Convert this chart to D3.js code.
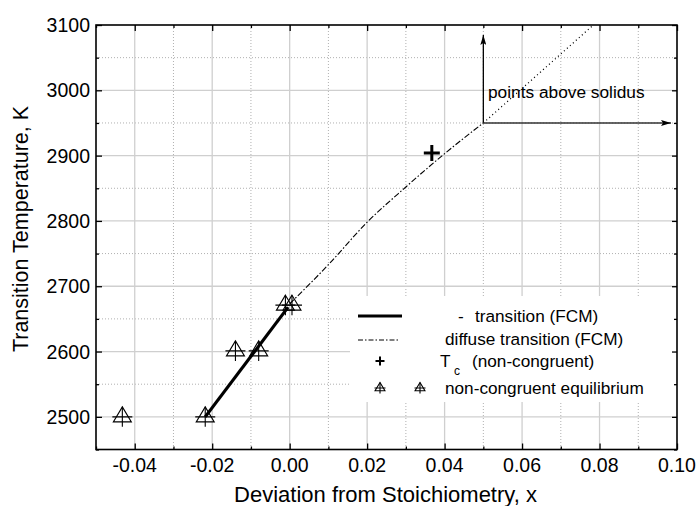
<!DOCTYPE html>
<html>
<head>
<meta charset="utf-8">
<script src="https://cdn.jsdelivr.net/npm/d3@7"></script>
<style>
  body { margin: 0; background: white; }
  svg { font-family: "Liberation Sans", Arial, sans-serif; }
</style>
</head>
<body>
<svg id="chart" width="697" height="506"></svg>
<script>
// data
var xDomain = [-0.05, 0.10];
var yDomain = [2450, 3100];
var xMajorTicks = [-0.04, -0.02, 0.00, 0.02, 0.04, 0.06, 0.08, 0.10];
var xMinorTicks = [-0.05, -0.03, -0.01, 0.01, 0.03, 0.05, 0.07, 0.09];
var yMajorTicks = [2500, 2600, 2700, 2800, 2900, 3000, 3100];
var yMinorTicks = [2450, 2550, 2650, 2750, 2850, 2950, 3050];

// transition (FCM), thick solid
var fcmX = [-0.0218, -0.0004];
var fcmT = [2500, 2668];
// diffuse transition (FCM), dash-dot
var diffX = [0.000, 0.010, 0.020, 0.030, 0.040, 0.050];
var diffT = [2673, 2733, 2798, 2852, 2903, 2950];
// points above solidus, dotted
var solX = [0.050, 0.0784];
var solT = [2950, 3100];
// Tc (non-congruent)
var tcX = [0.0367];
var tcT = [2904];
// non-congruent equilibrium
var neqX = [-0.0432, -0.0218, -0.0140, -0.0080, -0.0011, 0.0006];
var neqT = [2500, 2500, 2601, 2601, 2671, 2671];

var svg = d3.select("#chart");
var pLeft = 96, pRight = 677, pTop = 25, pBottom = 449.5;

var x = d3.scaleLinear().domain(xDomain).range([pLeft, pRight]);
var y = d3.scaleLinear().domain(yDomain).range([pBottom, pTop]);

// grid
var grid = svg.append("g");
grid.selectAll(".gxMinor").data(xMinorTicks.slice(1)).enter().append("line")
    .attr("x1", d => x(d)).attr("x2", d => x(d))
    .attr("y1", pTop).attr("y2", pBottom)
    .style("stroke", "#b0b0b0").style("stroke-dasharray", "1,2");
grid.selectAll(".gyMinor").data(yMinorTicks.slice(1)).enter().append("line")
    .attr("y1", d => y(d)).attr("y2", d => y(d))
    .attr("x1", pLeft).attr("x2", pRight)
    .style("stroke", "#b0b0b0").style("stroke-dasharray", "1,2");
grid.selectAll(".gxMajor").data(xMajorTicks.slice(0, -1)).enter().append("line")
    .attr("x1", d => x(d)).attr("x2", d => x(d))
    .attr("y1", pTop).attr("y2", pBottom)
    .style("stroke", "#cfcfcf").style("stroke-width", 1.3);
grid.selectAll(".gyMajor").data(yMajorTicks.slice(0, -1)).enter().append("line")
    .attr("y1", d => y(d)).attr("y2", d => y(d))
    .attr("x1", pLeft).attr("x2", pRight)
    .style("stroke", "#cfcfcf").style("stroke-width", 1.3);

// legend box hides the grid
svg.append("rect")
    .attr("x", 350).attr("y", 296)
    .attr("width", pRight - 350).attr("height", 106)
    .style("fill", "white");

// axes, ticks pointing inside on all four sides
function addAxis(axisFn, scale, ticks, size, tx, ty) {
    var g = svg.append("g")
        .attr("transform", "translate(" + tx + "," + ty + ")")
        .call(axisFn(scale).tickValues(ticks).tickSize(size).tickFormat(""));
    g.select(".domain").remove();
    g.selectAll(".tick line").style("stroke", "black").style("stroke-width", 1.3);
    return g;
}
addAxis(d3.axisTop, x, xMajorTicks, 6, 0, pBottom);
addAxis(d3.axisTop, x, xMinorTicks, 3, 0, pBottom);
addAxis(d3.axisBottom, x, xMajorTicks, 6, 0, pTop);
addAxis(d3.axisBottom, x, xMinorTicks, 3, 0, pTop);
addAxis(d3.axisRight, y, yMajorTicks, 6, pLeft, 0);
addAxis(d3.axisRight, y, yMinorTicks, 3, pLeft, 0);
addAxis(d3.axisLeft, y, yMajorTicks, 5, pRight, 0);
addAxis(d3.axisLeft, y, yMinorTicks, 3, pRight, 0);

// tick labels
svg.selectAll(".xLabel").data(xMajorTicks).enter().append("text")
    .attr("x", d => x(d)).attr("y", 472)
    .attr("text-anchor", "middle")
    .style("font-size", "19.5px")
    .text(d => d3.format(".2f")(d).replace("−", "-"));
svg.selectAll(".yLabel").data(yMajorTicks).enter().append("text")
    .attr("x", 90).attr("y", d => y(d) + 7)
    .attr("text-anchor", "end")
    .style("font-size", "19.5px")
    .text(d => d);

svg.append("rect")
    .attr("x", pLeft).attr("y", pTop)
    .attr("width", pRight - pLeft).attr("height", pBottom - pTop)
    .style("fill", "none").style("stroke", "black").style("stroke-width", 1.6);

// axis titles
svg.append("text")
    .attr("x", 385.5).attr("y", 502)
    .attr("text-anchor", "middle")
    .style("font-size", "22px")
    .text("Deviation from Stoichiometry, x");
svg.append("text")
    .attr("transform", "translate(28," + ((103 + 355) / 2) + ") rotate(-90)")
    .attr("text-anchor", "middle")
    .style("font-size", "21.5px")
    .text("Transition Temperature, K");

// lines
var line = d3.line().x(d => x(d[0])).y(d => y(d[1]));
var plot = svg.append("g");

plot.append("path")
    .datum(d3.zip(solX, solT))
    .attr("d", line)
    .style("fill", "none").style("stroke", "black")
    .style("stroke-width", 1.3).style("stroke-dasharray", "1,3");

plot.append("path")
    .datum(d3.zip(diffX, diffT))
    .attr("d", d3.line().curve(d3.curveMonotoneX).x(d => x(d[0])).y(d => y(d[1])))
    .style("fill", "none").style("stroke", "black")
    .style("stroke-width", 1.1).style("stroke-dasharray", "6,2,1.5,2");

plot.append("path")
    .datum(d3.zip(fcmX, fcmT))
    .attr("d", line)
    .style("fill", "none").style("stroke", "black")
    .style("stroke-width", 3.2);

// arrows from the solidus corner
var defs = svg.append("defs");
defs.append("marker")
    .attr("id", "arrow")
    .attr("viewBox", "0 0 10 6")
    .attr("refX", 10).attr("refY", 3)
    .attr("markerWidth", 10).attr("markerHeight", 6)
    .attr("markerUnits", "userSpaceOnUse")
    .attr("orient", "auto")
    .append("path").attr("d", "M0,0 L10,3 L0,6 L2,3 Z").style("fill", "black");

plot.append("line")
    .attr("x1", x(solX[0])).attr("y1", y(solT[0]))
    .attr("x2", x(solX[0])).attr("y2", 35)
    .style("stroke", "black").style("stroke-width", 1.3)
    .attr("marker-end", "url(#arrow)");
plot.append("line")
    .attr("x1", x(solX[0])).attr("y1", y(solT[0]))
    .attr("x2", 671).attr("y2", y(solT[0]))
    .style("stroke", "#333").style("stroke-width", 1.5)
    .attr("marker-end", "url(#arrow)");
svg.append("text")
    .attr("x", 488).attr("y", 98)
    .style("font-size", "17.3px")
    .text("points above solidus");

// markers
function triangleMark(g, cx, cy, s) {
    g.append("path")
        .attr("d", "M" + cx + "," + (cy - s) + " L" + (cx + s * 0.9) + "," + (cy + s * 0.5) +
            " L" + (cx - s * 0.9) + "," + (cy + s * 0.5) + " Z")
        .style("fill", "none").style("stroke", "black").style("stroke-width", 1.1);
    g.append("path")
        .attr("d", "M" + cx + "," + (cy - s) + " V" + (cy + s) +
            " M" + (cx - s) + "," + cy + " H" + (cx + s))
        .style("fill", "none").style("stroke", "black").style("stroke-width", 1.1);
}
function plusMark(g, cx, cy, s, w) {
    g.append("path")
        .attr("d", "M" + (cx - s) + "," + cy + " H" + (cx + s) + " M" + cx + "," + (cy - s) + " V" + (cy + s))
        .style("stroke", "black").style("stroke-width", w);
}

var marks = svg.append("g");
d3.zip(neqX, neqT).forEach(function (p) {
    triangleMark(marks, x(p[0]), y(p[1]), 10);
});
d3.zip(tcX, tcT).forEach(function (p) {
    plusMark(marks, x(p[0]), y(p[1]), 8, 3);
});

// legend
var legend = svg.append("g").style("font-size", "17.2px");
legend.append("line").attr("x1", 358).attr("x2", 402).attr("y1", 316).attr("y2", 316)
    .style("stroke", "black").style("stroke-width", 3);
legend.append("text").attr("x", 458).attr("y", 322).text("-");
legend.append("text").attr("x", 475).attr("y", 322).text("transition (FCM)");
legend.append("line").attr("x1", 358).attr("x2", 400).attr("y1", 340).attr("y2", 340)
    .style("stroke", "black").style("stroke-width", 1).style("stroke-dasharray", "5,2,1.5,2");
legend.append("text").attr("x", 445).attr("y", 345).text("diffuse transition (FCM)");
plusMark(legend, 380, 361, 4.5, 2);
legend.append("text").attr("x", 440).attr("y", 367).text("T");
legend.append("text").attr("x", 454).attr("y", 375).style("font-size", "12px").text("c");
legend.append("text").attr("x", 472).attr("y", 367).text("(non-congruent)");
triangleMark(legend, 380, 388, 5.5);
triangleMark(legend, 420, 388, 5.5);
legend.append("text").attr("x", 445).attr("y", 394).text("non-congruent equilibrium");
</script>
</body>
</html>
